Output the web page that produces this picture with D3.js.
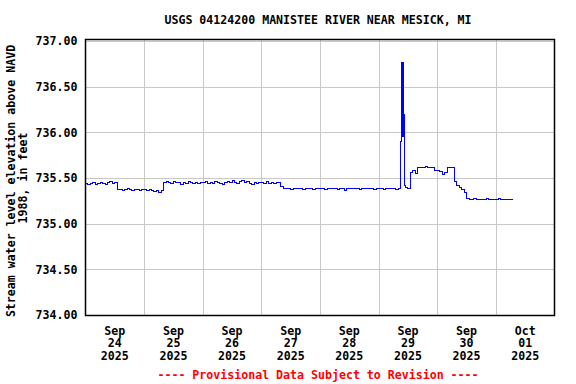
<!DOCTYPE html>
<html>
<head>
<meta charset="utf-8">
<script src="https://cdn.jsdelivr.net/npm/d3@7"></script>
<style>
  body { margin: 0; background: #fff; }
  svg text { font-family: "DejaVu Sans Mono", "Liberation Mono", monospace; font-weight: bold; font-size: 11.6px; }
</style>
</head>
<body>
<div id="chart"></div>
<script>
// hourly gage heights (ft), one array per day, starting at 00:00
const sep24 = [735.44, 735.43, 735.44, 735.45, 735.43, 735.44, 735.45, 735.44, 735.43, 735.45, 735.46, 735.44,
               735.45, 735.37, 735.37, 735.36, 735.37, 735.38, 735.37, 735.36, 735.37, 735.37, 735.36, 735.37];
const sep25 = [735.37, 735.36, 735.37, 735.36, 735.35, 735.36, 735.34, 735.36, 735.45, 735.46, 735.45, 735.44,
               735.46, 735.45, 735.45, 735.43, 735.45, 735.44, 735.46, 735.45, 735.44, 735.45, 735.44, 735.45];
const sep26 = [735.45, 735.46, 735.44, 735.45, 735.44, 735.46, 735.45, 735.44, 735.43, 735.45, 735.46, 735.45,
               735.47, 735.45, 735.44, 735.46, 735.47, 735.45, 735.46, 735.44, 735.43, 735.45, 735.44, 735.45];
const sep27 = [735.45, 735.44, 735.46, 735.44, 735.45, 735.44, 735.45, 735.45, 735.41, 735.38, 735.38, 735.38,
               735.37, 735.38, 735.38, 735.39, 735.38, 735.37, 735.38, 735.38, 735.38, 735.37, 735.38, 735.38];
const sep28 = [735.38, 735.38, 735.37, 735.38, 735.39, 735.38, 735.38, 735.37, 735.38, 735.38, 735.36, 735.38,
               735.38, 735.39, 735.38, 735.38, 735.37, 735.38, 735.38, 735.39, 735.38, 735.38, 735.37, 735.38];
const sep29 = [735.38, 735.38, 735.37, 735.38, 735.38, 735.39, 735.38, 735.37, 735.38, null, null, 735.40,
               735.38, 735.56, 735.58, 735.55, 735.61, 735.62, 735.61, 735.63, 735.62, 735.61, 735.62, 735.58];
const sep30 = [735.58, 735.57, 735.54, 735.56, 735.62, 735.61, 735.62, 735.46, 735.42, 735.40, 735.37, 735.34,
               735.28, 735.27, 735.27, 735.28, 735.27, 735.27, 735.26, 735.27, 735.28, 735.27, 735.27, 735.26];
const oct01 = [735.27, 735.28, 735.27, 735.27, 735.26, 735.27, 735.27, 735.27];

// 15-minute readings during the spike on Sep 29
const spikeTimes = ["2025-09-29 09:00", "2025-09-29 09:15", "2025-09-29 09:30", "2025-09-29 09:45",
                    "2025-09-29 10:00", "2025-09-29 10:15", "2025-09-29 10:30", "2025-09-29 10:45"];
const spikeValues = [735.90, 736.08, 736.77, 735.95, 736.76, 736.20, 735.44, 735.42];

const dayLabels = ["2025-09-24", "2025-09-25", "2025-09-26", "2025-09-27",
                   "2025-09-28", "2025-09-29", "2025-09-30", "2025-10-01"];
const yTicks = [734.0, 734.5, 735.0, 735.5, 736.0, 736.5, 737.0];

const title = "USGS 04124200 MANISTEE RIVER NEAR MESICK, MI";
const yTitle = ["Stream water level elevation above NAVD", "1988, in feet"];
const footer = "---- Provisional Data Subject to Revision ----";

const width = 576, height = 384;
const plotLeft = 85.5, plotRight = 554.5, plotTop = 39.5, plotBottom = 315.5;

const parse = d3.timeParse("%Y-%m-%d %H:%M");
const parseDay = d3.timeParse("%Y-%m-%d");

const data = [];
[sep24, sep25, sep26, sep27, sep28, sep29, sep30, oct01].forEach((day, i) => {
    day.forEach((v, h) => {
        if (v !== null) data.push({ t: new Date(2025, 8, 24 + i, h), v: v });
    });
});
spikeTimes.forEach((s, i) => data.push({ t: parse(s), v: spikeValues[i] }));
data.sort((a, b) => a.t - b.t);

const svg = d3.select("#chart")
    .append("svg")
    .attr("width", width)
    .attr("height", height);

const xScale = d3.scaleTime()
    .domain([new Date(2025, 8, 24), new Date(2025, 9, 2)])
    .range([plotLeft, plotRight]);

const yScale = d3.scaleLinear()
    .domain([734, 737])
    .range([315, 41]);

// grid
svg.append("g")
    .selectAll("line")
    .data(d3.timeDay.range(new Date(2025, 8, 25), new Date(2025, 9, 2)))
    .join("line")
    .attr("x1", d => Math.round(xScale(d)) + 0.5)
    .attr("x2", d => Math.round(xScale(d)) + 0.5)
    .attr("y1", plotTop)
    .attr("y2", plotBottom)
    .attr("stroke", "#c8c8c8")
    .attr("stroke-width", 1);

svg.append("g")
    .selectAll("line")
    .data(yTicks)
    .join("line")
    .attr("x1", plotLeft)
    .attr("x2", plotRight)
    .attr("y1", d => Math.round(yScale(d)) + 0.5)
    .attr("y2", d => Math.round(yScale(d)) + 0.5)
    .attr("stroke", "#c8c8c8")
    .attr("stroke-width", 1);

// data line
const line = d3.line()
    .x(d => xScale(d.t))
    .y(d => yScale(d.v))
    .curve(d3.curveStepAfter);

svg.append("path")
    .datum(data)
    .attr("d", line)
    .attr("fill", "none")
    .attr("stroke", "#0000ff")
    .attr("stroke-width", 1)
    .attr("shape-rendering", "crispEdges");

// frame
svg.append("rect")
    .attr("x", plotLeft)
    .attr("y", plotTop)
    .attr("width", plotRight - plotLeft)
    .attr("height", plotBottom - plotTop)
    .attr("fill", "none")
    .attr("stroke", "#000")
    .attr("stroke-width", 1.5);

// y axis labels
const yAxis = svg.append("g")
    .attr("transform", `translate(${plotLeft},0)`)
    .call(d3.axisLeft(yScale).tickValues(yTicks).tickSize(0).tickPadding(8).tickFormat(d3.format(".2f")));
yAxis.select(".domain").remove();
yAxis.attr("font-family", null).attr("font-size", null);
yAxis.selectAll("text").attr("fill", "#000");

// x axis labels at noon of each day
const fmts = [d3.timeFormat("%b"), d3.timeFormat("%d"), d3.timeFormat("%Y")];
svg.append("g")
    .selectAll("text")
    .data(dayLabels.map(parseDay))
    .join("text")
    .attr("text-anchor", "middle")
    .attr("fill", "#000")
    .each(function (d) {
        const xc = xScale(d3.timeHour.offset(d, 12));
        fmts.forEach((f, i) => {
            d3.select(this).append("tspan")
                .attr("x", xc)
                .attr("y", 334.5 + i * 12.5)
                .text(f(d));
        });
    });

// titles
svg.append("text")
    .attr("x", 318)
    .attr("y", 24)
    .attr("text-anchor", "middle")
    .text(title);

yTitle.forEach((t, i) => {
    svg.append("text")
        .attr("transform", `translate(${15 + i * 12},${i === 0 ? 181 : 178}) rotate(-90)`)
        .attr("text-anchor", "middle")
        .text(t);
});

svg.append("text")
    .attr("x", 318)
    .attr("y", 378.5)
    .attr("text-anchor", "middle")
    .attr("fill", "#ff0000")
    .text(footer);
</script>
</body>
</html>
